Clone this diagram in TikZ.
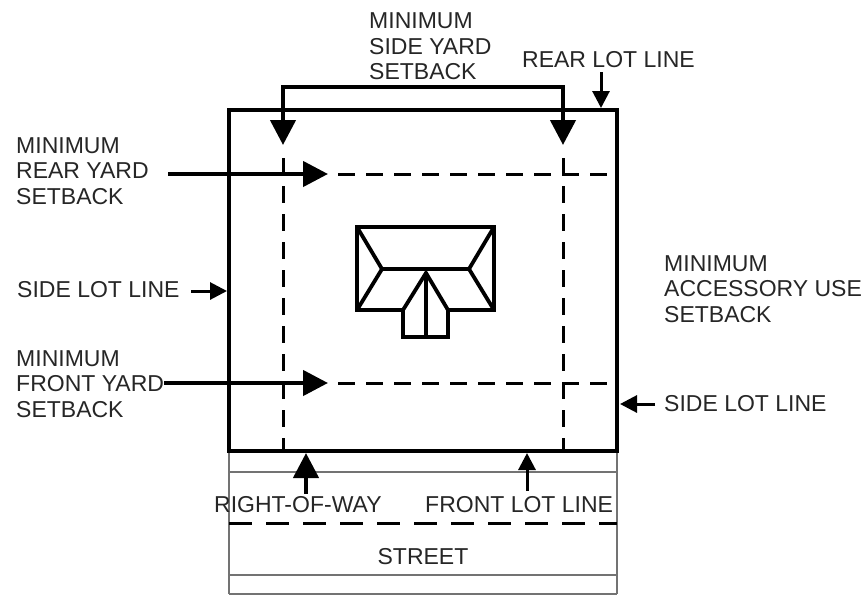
\documentclass[tikz,border=0pt]{standalone}
\usepackage{fontspec}
\setmainfont{Liberation Sans}
\usetikzlibrary{arrows.meta}
\tikzset{
  lbl/.style={inner sep=0pt,anchor=west,align=left,text=black!85,font=\fontsize{23}{25.5}\selectfont},
  lotline/.style={line width=4.4pt,line join=miter},
  thinline/.style={line width=1.2pt,black!55},
  houseline/.style={line width=4.6pt,line join=miter},
  roofline/.style={line width=3.8pt},
  setback/.style={line width=3pt,dash pattern=on 17pt off 11pt},
  bigarrow/.style={line width=4.4pt,-{Triangle[length=25pt,width=25pt]}},
  smallarrow/.style={line width=3pt,-{Triangle[length=17pt,width=17pt]}},
}
\begin{document}
\begin{tikzpicture}[x=1pt,y=-1pt]
\useasboundingbox (0,0) rectangle (865,595);
\fill [white] (0,0) rectangle (865,595);
% lot and street
\coordinate (nw) at (229,110);
\coordinate (ne) at (617,110);
\coordinate (sw) at (229,451);
\coordinate (se) at (617,451);
\coordinate (sbot) at (229,594);
\coordinate (ebot) at (617,594);
\draw [thinline] (sw) -- (sbot);
\draw [thinline] (se) -- (ebot);
\draw [thinline] (229,472) -- (617,472);
\draw [thinline] (229,575) -- (617,575);
\draw [thinline] (sbot) -- (ebot);
\draw [line width=3pt,dash pattern=on 23pt off 14pt] (229,523) -- (617,523);
\draw [lotline] (nw) -- (ne) -- (se) -- (sw) -- cycle;
% setback lines
\coordinate (sbl) at (283,158);
\coordinate (sbr) at (563,158);
\coordinate (rearstart) at (338,174);
\coordinate (frontstart) at (338,383);
\coordinate (reartip) at (328,174);
\coordinate (fronttip) at (328,383);
\draw [setback] (sbl) -- (sbl |- sw);
\draw [setback] (sbr) -- (sbr |- se);
\draw [setback] (rearstart) -- (610,174);
\draw [setback] (frontstart) -- (612,383);
% house
\coordinate (ha) at (357,227);
\coordinate (hb) at (494,227);
\coordinate (hc) at (494,310);
\coordinate (hd) at (357,310);
\coordinate (rl) at (382,269);
\coordinate (rr) at (469,269);
\coordinate (pa) at (426,273);
\coordinate (pl) at (403,310);
\coordinate (pr) at (448,310);
\coordinate (pbl) at (403,337);
\coordinate (pbr) at (448,337);
\draw [houseline] (ha) -- (hb) -- (hc) -- (pr) -- (pbr) -- (pbl) -- (pl) -- (hd) -- cycle;
\draw [roofline] (ha) -- (rl) -- (hd);
\draw [roofline] (hb) -- (rr) -- (hc);
\draw [roofline] (rl) -- (rr);
\draw [roofline] (pl) -- (pa) -- (pr);
\draw [roofline] (pa) -- (pa |- pbl);
% labels
\node [lbl] (sideyard) at (369,46.5) {MINIMUM\\SIDE YARD\\SETBACK};
\node [lbl] (rearlot) at (522,60) {REAR LOT LINE};
\node [lbl] (rearyard) at (16,171) {MINIMUM\\REAR YARD\\SETBACK};
\node [lbl] (sidelotl) at (17,290) {SIDE LOT LINE};
\node [lbl] (frontyard) at (16,384) {MINIMUM\\FRONT YARD\\SETBACK};
\node [lbl] (accessory) at (664,289) {MINIMUM\\ACCESSORY USE\\SETBACK};
\node [lbl] (sidelotr) at (664,404) {SIDE LOT LINE};
\node [lbl] (row) at (214,505) {RIGHT-OF-WAY};
\node [lbl] (frontlot) at (425,505) {FRONT LOT LINE};
\node [lbl,anchor=center] (street) at (423,557) {STREET};
% arrows
\coordinate (brl) at (283,87);
\coordinate (brr) at (563,87);
\draw [line width=4.4pt,line join=miter,{Triangle[length=25pt,width=25pt]}-{Triangle[length=25pt,width=25pt]}] (283,145) -- (brl) -- (brr) -- (563,145);
\draw [bigarrow] (168,174) -- (reartip);
\draw [bigarrow] (frontyard.east |- fronttip) -- (fronttip);
\draw [bigarrow] (306,494) -- (306,453);
\draw [smallarrow] (527,491) -- (527,453);
\draw [smallarrow] (601,72) -- (601,108);
\draw [smallarrow] (191,291) -- (227,291);
\draw [smallarrow] (655,404) -- (620,404);
\end{tikzpicture}
\end{document}
